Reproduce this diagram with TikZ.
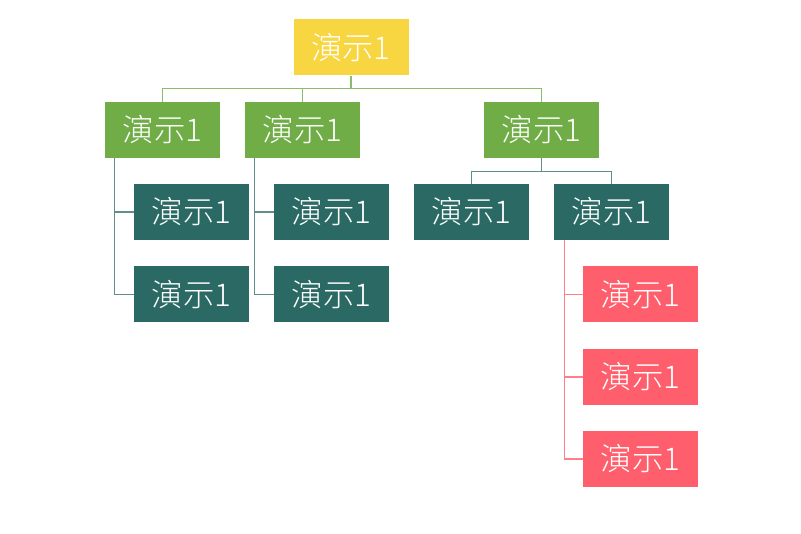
\documentclass[tikz,border=0pt]{standalone}
\usepackage{fontspec}
\newfontfamily\cjk{Noto Sans CJK SC}[UprightFont=* Light]
\usepackage{tikz}
\definecolor{topyellow}{HTML}{F8D641}
\definecolor{leafgreen}{HTML}{70AD47}
\definecolor{darkteal}{HTML}{2B6A64}
\definecolor{coral}{HTML}{FF5E6C}

\begin{document}
\begin{tikzpicture}
    [
    x=0.75pt, y=-0.75pt,
    box/.style={rectangle,minimum width=86.25pt,minimum height=42pt,inner sep=0pt,
        text=white,font=\cjk\fontsize{23.5}{25}\selectfont},
    ybox/.style={box,fill=topyellow},
    gbox/.style={box,fill=leafgreen},
    tbox/.style={box,fill=darkteal},
    rbox/.style={box,fill=coral},
    glink/.style={draw=leafgreen!80!white,line width=0.8pt},
    tlink/.style={draw=darkteal!75!white,line width=0.8pt},
    rlink/.style={draw=coral!80!white,line width=0.8pt}
    ]
\useasboundingbox (0,0) rectangle (801,534);
\node[ybox] (top) at (351,47.5) {演示1};
\node[gbox] (g1) at (162.5,130) {演示1};
\node[gbox] (g2) at (302.5,130) {演示1};
\node[gbox] (g3) at (541.5,130) {演示1};
\node[tbox] (t1) at (191.5,212) {演示1};
\node[tbox] (t2) at (191.5,294.5) {演示1};
\node[tbox] (t3) at (331.5,212) {演示1};
\node[tbox] (t4) at (331.5,294.5) {演示1};
\node[tbox] (t5) at (471.5,212) {演示1};
\node[tbox] (t6) at (611.5,212) {演示1};
\node[rbox] (r1) at (640.5,294.5) {演示1};
\node[rbox] (r2) at (640.5,377) {演示1};
\node[rbox] (r3) at (640.5,459) {演示1};
% top level
\draw[glink] (top.south) -- ++(0,13) -| (g1.north);
\draw[glink] (top.south) -- ++(0,13) -| (g2.north);
\draw[glink] (top.south) -- ++(0,13) -| (g3.north);
% side branches
\coordinate (s1) at ([xshift=7.5pt]g1.south west);
\coordinate (s2) at ([xshift=7.5pt]g2.south west);
\coordinate (s6) at ([xshift=8.25pt]t6.south west);
\draw[tlink] (s1) |- (t1.west);
\draw[tlink] (s1) |- (t2.west);
\draw[tlink] (s2) |- (t3.west);
\draw[tlink] (s2) |- (t4.west);
\draw[rlink] (s6) |- (r1.west);
\draw[rlink] (s6) |- (r2.west);
\draw[rlink] (s6) |- (r3.west);
% right group
\draw[tlink] (g3.south) -- ++(0,13) -| (t5.north);
\draw[tlink] (g3.south) -- ++(0,13) -| (t6.north);
\end{tikzpicture}
\end{document}
